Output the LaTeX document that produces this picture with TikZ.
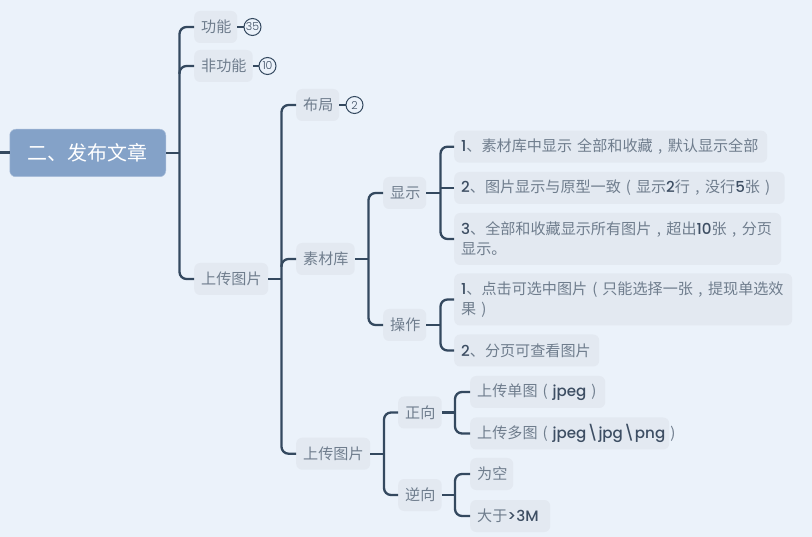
\documentclass[tikz,border=0pt]{standalone}
\usepackage{fontspec}
\setmainfont{Noto Sans CJK SC}
\newfontfamily\latf{Poppins Medium}
\newfontfamily\latl{Poppins Light}
\definecolor{bgc}{HTML}{EBF2FA}
\definecolor{rootc}{HTML}{84A2C8}
\definecolor{boxc}{HTML}{E3E9F1}
\definecolor{linec}{HTML}{34495F}
\definecolor{txtc}{HTML}{6F7D8D}
\definecolor{latc}{HTML}{3D4E63}
\newcommand{\lat}[1]{{\latf\color{latc}#1}}
\newcommand{\cw}[1]{\makebox[15.1pt][c]{#1}}
\newcommand{\lpar}{\cw{(}}
\newcommand{\rpar}{\cw{)}}
\newcommand{\cma}{\cw{,}}
\newcommand{\bsl}{\kern0.6pt\lat{\textbackslash}\kern0.6pt}
\tikzset{
  x=1pt,y=-1pt,
  boxn/.style={draw=none,fill=boxc,rounded corners=6pt,anchor=west,inner xsep=7pt,inner ysep=0pt,
    minimum height=32pt,text width=#1-14pt,align=left,font=\fontsize{15.1}{20}\selectfont,text=txtc},
  rootn/.style={fill=rootc,draw=rootc!70!white,line width=0.5pt,rounded corners=6pt,anchor=west,inner sep=0pt,
    minimum width=156pt,minimum height=47.5pt,align=center,font=\fontsize{20}{24}\selectfont,text=white},
  badge/.style={circle,draw=linec,line width=1pt,fill=bgc,inner sep=0pt,minimum size=17pt,
    font=\latl\fontsize{11}{11}\selectfont,text=latc},
  conn/.style={draw=linec,line width=2.3pt,rounded corners=7pt},
  stem/.style={draw=linec,line width=2pt},
}
\begin{document}
\begin{tikzpicture}
\useasboundingbox (0,0) rectangle (812,537);
\fill[bgc] (0,0) rectangle (812,537);
% trunks
\coordinate (T0) at (0,153);
\coordinate (T1) at (179.5,0);
\coordinate (T2) at (281.5,0);
\coordinate (T3) at (368.5,0);
\coordinate (T4) at (440.5,0);
\coordinate (T5) at (384,0);
\coordinate (T6) at (455,0);
% nodes
\node[rootn] (root) at (9.5,153) {二、发布文章};
\node[boxn=43pt] (gn) at (194,27) {功能};
\node[boxn=58.5pt] (fgn) at (194,66) {非功能};
\node[boxn=74pt] (up1) at (194,279) {上传图片};
\node[boxn=43pt] (bj) at (296,105) {布局};
\node[boxn=58.5pt] (sck) at (296,259) {素材库};
\node[boxn=74pt] (up2) at (296,453.7) {上传图片};
\node[boxn=43pt] (xs) at (383,193) {显示};
\node[boxn=43pt] (cz) at (383,325) {操作};
\node[boxn=313pt] (a1) at (454,146.7) {\lat{1}、素材库中显示 全部和收藏\cma 默认显示全部};
\node[boxn=330.5pt] (a2) at (454,188) {\lat{2}、图片显示与原型一致\lpar 显示\lat{2}行\cma 没行\lat{5}张\rpar};
\node[boxn=327pt,minimum height=52pt] (a3) at (454,239) {\lat{3}、全部和收藏显示所有图片\cma 超出\lat{10}张\cma 分页\\显示。};
\node[boxn=338pt,minimum height=52pt] (b1) at (454,299.5) {\lat{1}、点击可选中图片\lpar 只能选择一张\cma 提现单选效\\果\rpar};
\node[boxn=145pt] (b2) at (454,350.5) {\lat{2}、分页可查看图片};
\node[boxn=43.5pt] (zx) at (398,412.5) {正向};
\node[boxn=43.5pt] (nx) at (398,495) {逆向};
\node[boxn=135pt] (c1) at (470,392) {上传单图\lpar\lat{jpeg}\rpar};
\node[boxn=199pt] (c2) at (470,433.5) {上传多图\lpar\lat{jpeg}\bsl\lat{jpg}\bsl\lat{png}\rpar};
\node[boxn=43pt] (d1) at (470,474) {为空};
\node[boxn=80pt] (d2) at (470,516) {大于\lat{>3M}};
\node[badge] (k1) at (252.5,27) {35};
\node[badge] (k2) at (267.5,66) {10};
\node[badge] (k3) at (354.5,105) {2};
% connectors
\draw[draw=linec,line width=3pt] (T0) -- (root.west);
\draw[stem] (root.east) -- (root.east -| T1);
\draw[conn] (gn.west) -- (gn.west -| T1) -- (up1.west -| T1) -- (up1.west);
\draw[conn] (fgn.west) -- (fgn.west -| T1) -- ([yshift=-8pt]fgn.west -| T1);
\draw[stem] (gn.east) -- (k1);
\draw[stem] (fgn.east) -- (k2);
\draw[stem] (bj.east) -- (k3);
\draw[conn] (up1.east) -- (up1.east -| T2);
\draw[conn] (bj.west) -- (bj.west -| T2) -- (up2.west -| T2) -- (up2.west);
\draw[conn] (sck.west) -- (sck.west -| T2) -- ([yshift=-8pt]sck.west -| T2);
\draw[conn] (sck.east) -- (sck.east -| T3);
\draw[conn] (xs.west) -- (xs.west -| T3) -- (cz.west -| T3) -- (cz.west);
\draw[conn] (xs.east) -- (xs.east -| T4);
\draw[conn] (a1.west) -- (a1.west -| T4) -- (a3.west -| T4) -- (a3.west);
\draw[conn] (a2.west) -- (a2.west -| T4);
\draw[conn] (cz.east) -- (cz.east -| T4);
\draw[conn] (b1.west) -- (b1.west -| T4) -- (b2.west -| T4) -- (b2.west);
\draw[conn] (up2.east) -- (up2.east -| T5);
\draw[conn] (zx.west) -- (zx.west -| T5) -- (nx.west -| T5) -- (nx.west);
\draw[conn] (zx.east) -- (zx.east -| T6);
\draw[conn] (c1.west) -- (c1.west -| T6) -- (c2.west -| T6) -- (c2.west);
\draw[conn] (nx.east) -- (nx.east -| T6);
\draw[conn] (d1.west) -- (d1.west -| T6) -- (d2.west -| T6) -- (d2.west);
\end{tikzpicture}
\end{document}
